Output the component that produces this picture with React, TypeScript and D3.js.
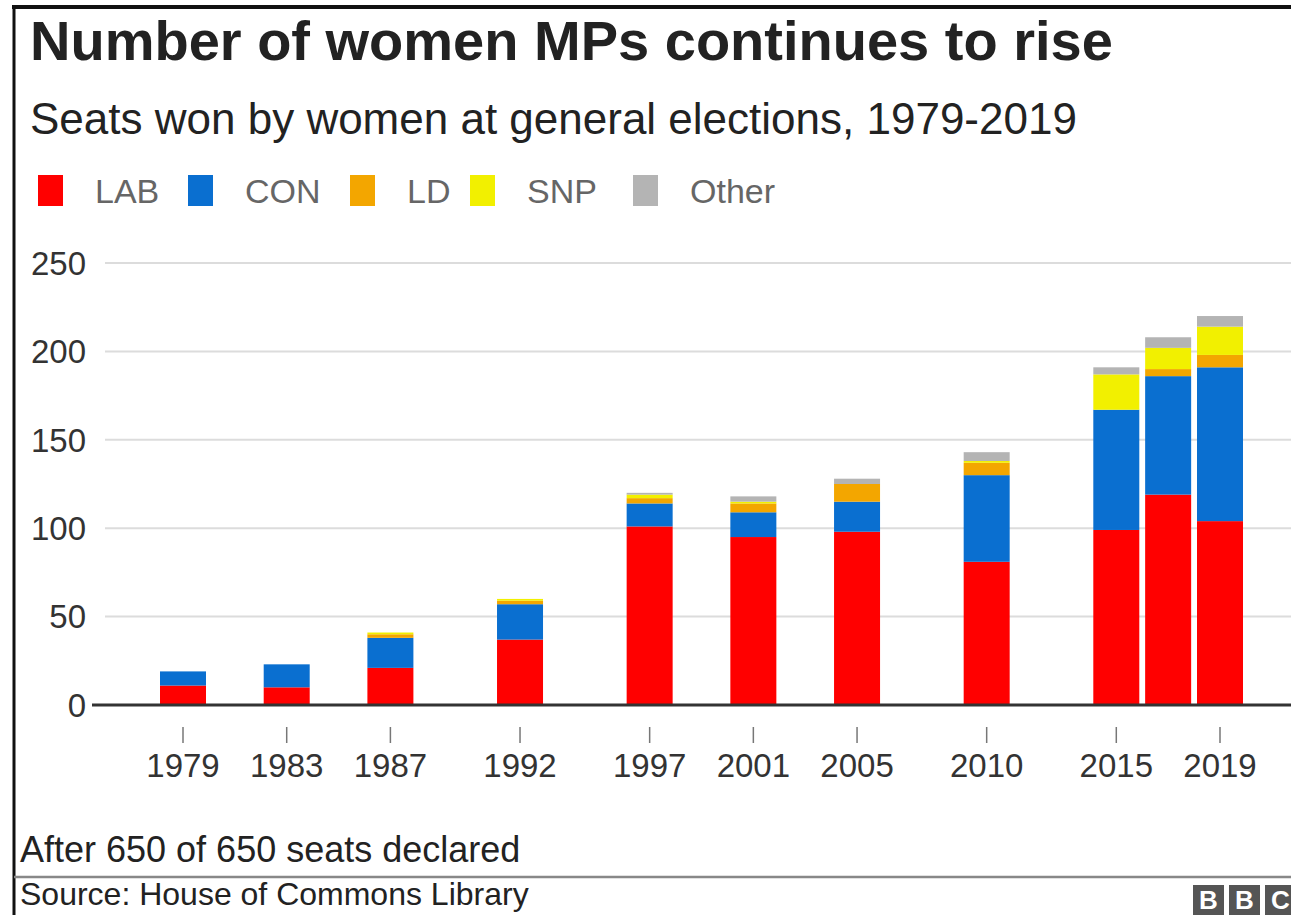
import React from "react";
import * as d3 from "d3";

// Seats won by women MPs at each general election, by party
const years = [1979, 1983, 1987, 1992, 1997, 2001, 2005, 2010, 2015, 2017, 2019];
const lab = [11, 10, 21, 37, 101, 95, 98, 81, 99, 119, 104];
const con = [8, 13, 17, 20, 13, 14, 17, 49, 68, 67, 87];
const ld = [0, 0, 2, 2, 3, 5, 10, 7, 0, 4, 7];
const snp = [0, 0, 1, 1, 2, 1, 0, 1, 20, 12, 16];
const other = [0, 0, 0, 0, 1, 3, 3, 5, 4, 6, 6];

const partyKeys = ["LAB", "CON", "LD", "SNP", "Other"];
const partyColors = ["#ff0000", "#0a6fd0", "#f3a600", "#f2f000", "#b4b4b4"];
const yTicks = [0, 50, 100, 150, 200, 250];
const xTickYears = [1979, 1983, 1987, 1992, 1997, 2001, 2005, 2010, 2015, 2019];

const W = 1291;
const H = 915;
const FONT = "'Liberation Sans', Arial, Helvetica, sans-serif";

export default function App() {
  const rows = years.map((yr, i) => ({
    year: yr,
    LAB: lab[i],
    CON: con[i],
    LD: ld[i],
    SNP: snp[i],
    Other: other[i],
  }));
  const series = d3.stack<any>().keys(partyKeys)(rows);

  const x = d3.scaleLinear().domain([1979, 2019]).range([183, 1220]);
  const y = d3.scaleLinear().domain([0, 250]).range([705, 263]);
  const barW = 46;

  const legendX = [38, 188, 350, 470, 633];

  return (
    <svg
      width={W}
      height={H}
      style={{ position: "absolute", left: 0, top: 0, background: "#fff" }}
      fontFamily={FONT}
    >
      <rect x={0} y={0} width={W} height={H} fill="#fff" />
      {/* frame */}
      <line x1={12} x2={W} y1={7} y2={7} stroke="#111" strokeWidth={4} />
      <line x1={14} x2={14} y1={5} y2={H} stroke="#111" strokeWidth={3} />

      <text x={30} y={60} fontSize={56} fontWeight="bold" fill="#222">
        Number of women MPs continues to rise
      </text>
      <text x={30} y={134} fontSize={44} fill="#222">
        Seats won by women at general elections, 1979-2019
      </text>

      {/* legend */}
      {partyKeys.map((k, i) => (
        <g key={k}>
          <rect x={legendX[i]} y={175} width={25} height={31} fill={partyColors[i]} />
          <text x={legendX[i] + 57} y={203} fontSize={34} fill="#666">
            {k}
          </text>
        </g>
      ))}

      {/* gridlines and y labels */}
      {yTicks.map((t) => (
        <g key={t}>
          {t !== 0 && (
            <line x1={105} x2={W} y1={y(t)} y2={y(t)} stroke="#dcdcdc" strokeWidth={2} />
          )}
          <text
            x={86}
            y={y(t)}
            dy="0.36em"
            textAnchor="end"
            fontSize={33}
            fill="#333"
          >
            {t}
          </text>
        </g>
      ))}

      {/* stacked bars */}
      {series.map((s, si) => (
        <g key={s.key} fill={partyColors[si]}>
          {s.map((d: any, i: number) =>
            d[1] > d[0] ? (
              <rect
                key={i}
                x={x(years[i]) - barW / 2}
                y={y(d[1])}
                width={barW}
                height={y(d[0]) - y(d[1])}
              />
            ) : null
          )}
        </g>
      ))}

      {/* baseline */}
      <line x1={92} x2={W} y1={y(0)} y2={y(0)} stroke="#333" strokeWidth={3} />

      {/* x ticks and labels */}
      {xTickYears.map((yr) => (
        <g key={yr}>
          <line x1={x(yr)} x2={x(yr)} y1={727} y2={743} stroke="#777" strokeWidth={1.5} />
          <text x={x(yr)} y={777} textAnchor="middle" fontSize={33} fill="#333">
            {yr}
          </text>
        </g>
      ))}

      {/* footer */}
      <text x={20} y={862} fontSize={36} fill="#222">
        After 650 of 650 seats declared
      </text>
      <line x1={14} x2={W} y1={877} y2={877} stroke="#888" strokeWidth={2.5} />
      <text x={20} y={905} fontSize={32} fill="#222">
        Source: House of Commons Library
      </text>

      {/* BBC blocks */}
      {["B", "B", "C"].map((c, i) => (
        <g key={i}>
          <rect x={1193 + i * 36} y={885} width={31} height={30} fill="#555" />
          <text
            x={1193 + i * 36 + 15.5}
            y={909}
            textAnchor="middle"
            fontSize={26}
            fontWeight="bold"
            fill="#fff"
          >
            {c}
          </text>
        </g>
      ))}
    </svg>
  );
}
